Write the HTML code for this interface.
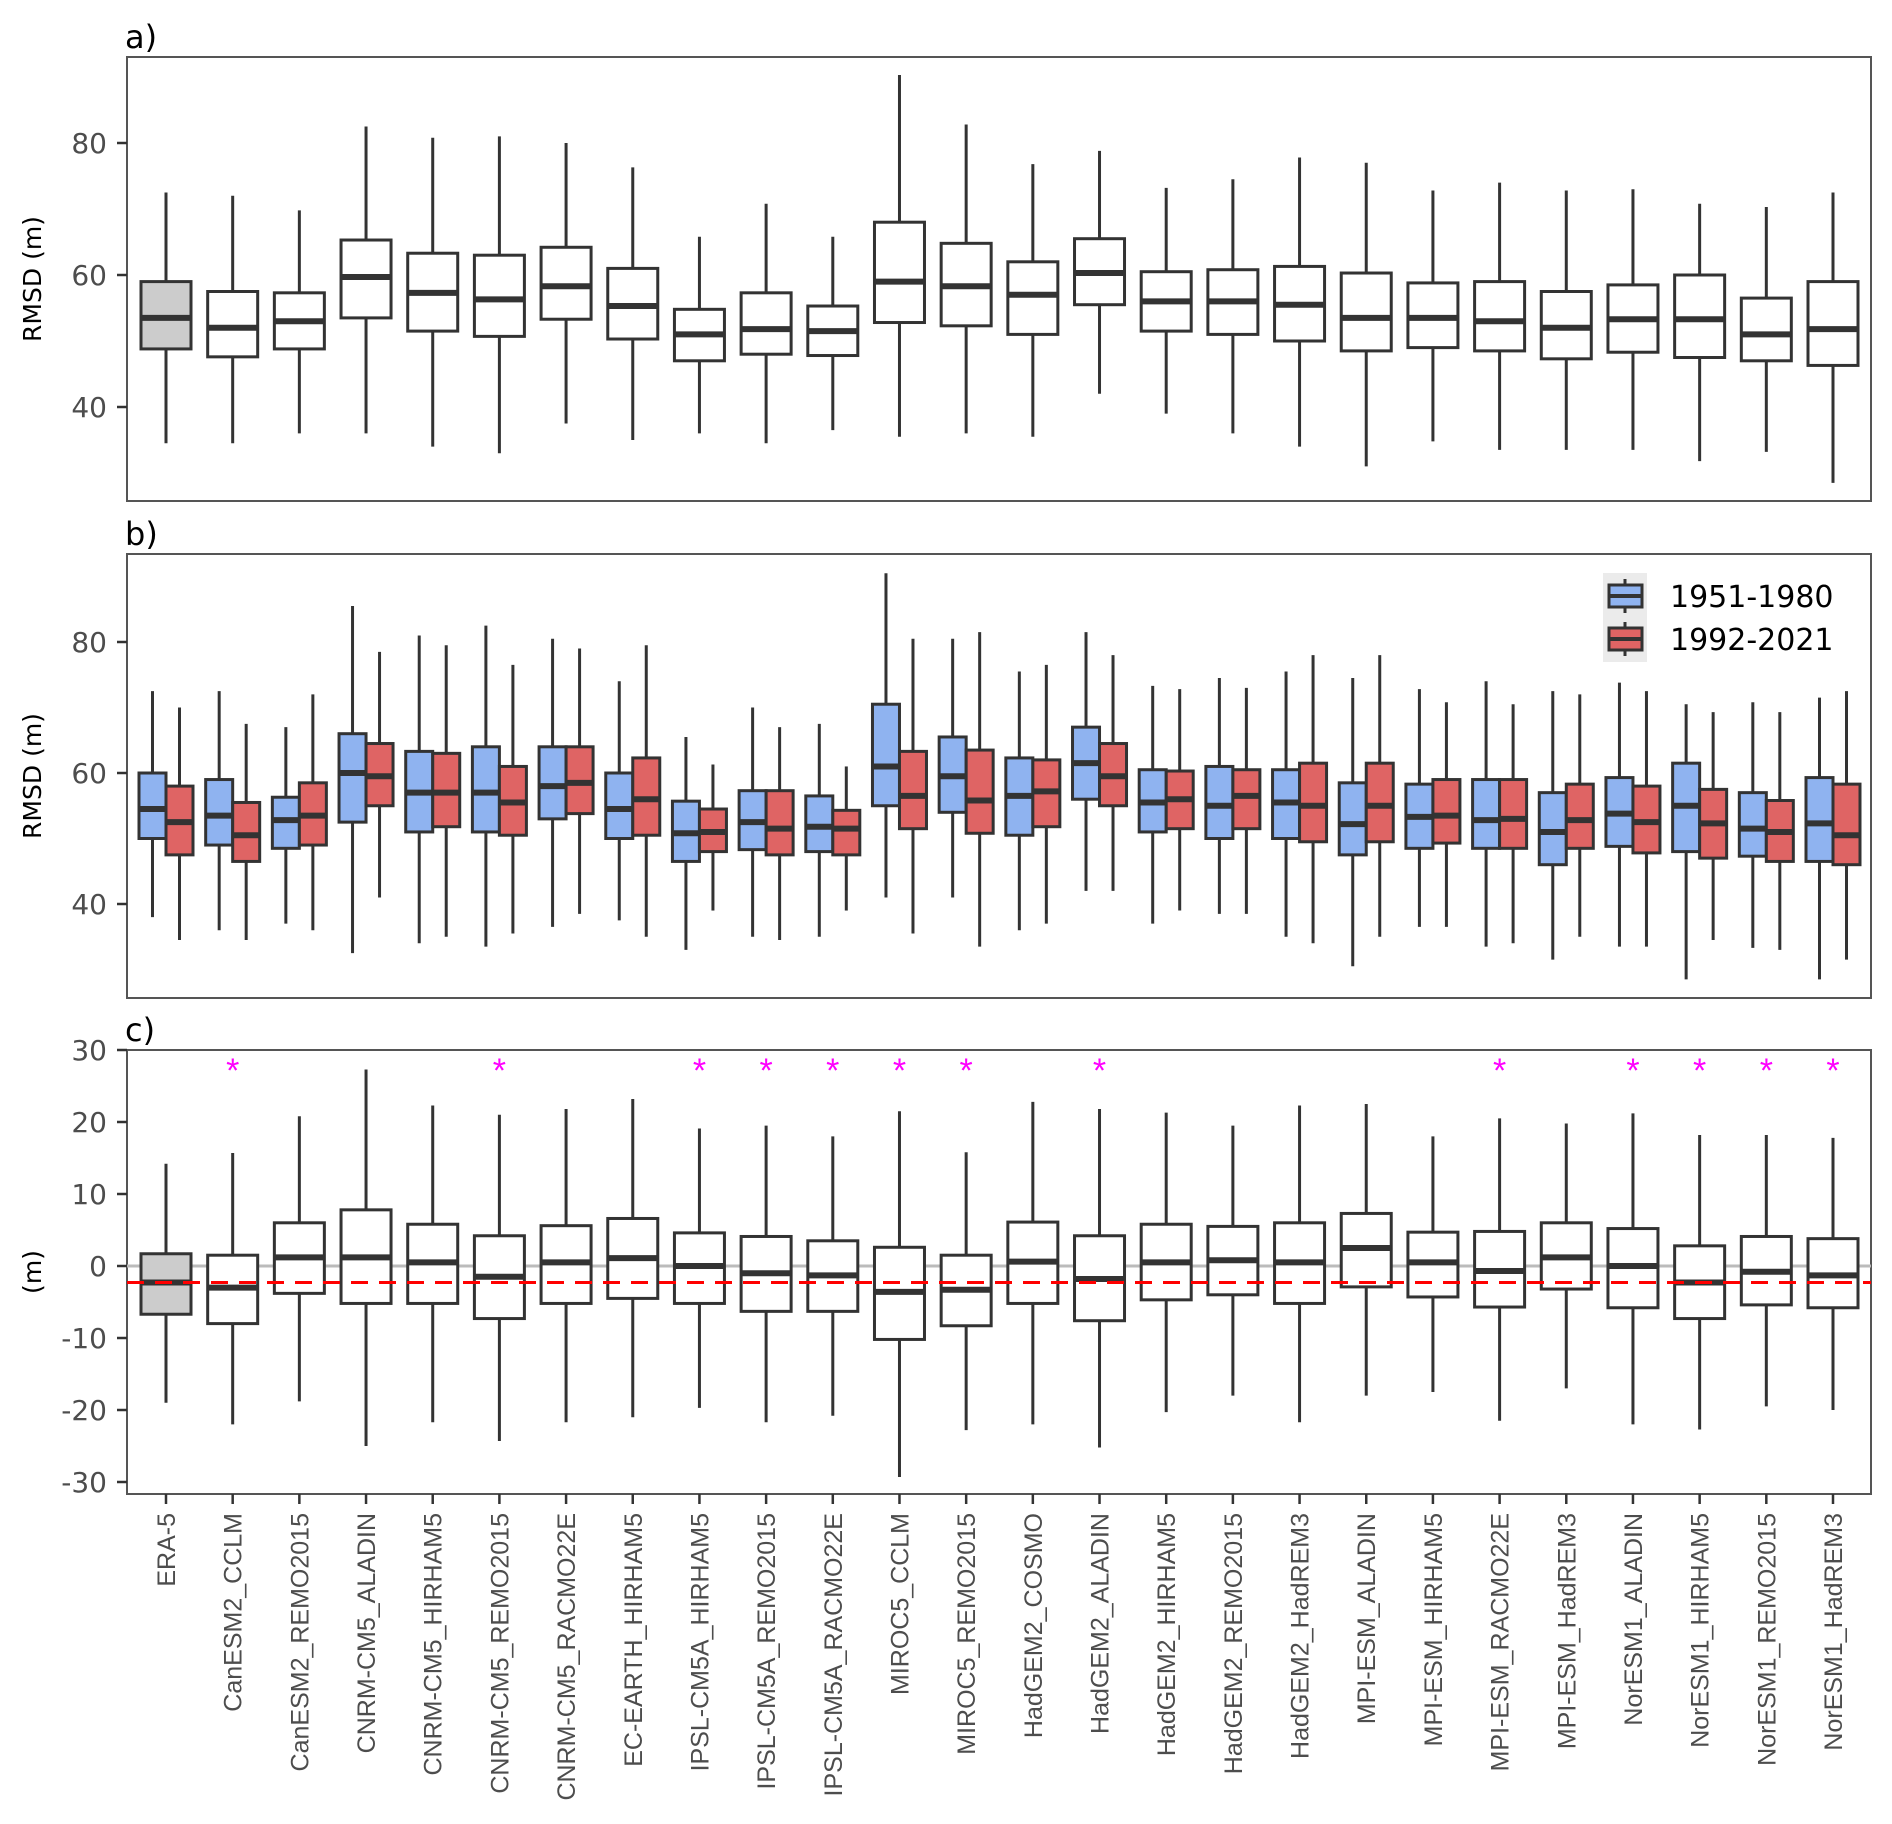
<!DOCTYPE html>
<html><head><meta charset="utf-8"><style>
html,body{margin:0;padding:0;background:#fff;}
svg{display:block;font-family:"Liberation Sans","DejaVu Sans",sans-serif;}
</style></head><body>
<svg id="chart" width="1892" height="1824" viewBox="0 0 1892 1824" xmlns="http://www.w3.org/2000/svg"></svg>
<script>
const categories=["ERA-5","CanESM2_CCLM","CanESM2_REMO2015","CNRM-CM5_ALADIN","CNRM-CM5_HIRHAM5","CNRM-CM5_REMO2015","CNRM-CM5_RACMO22E","EC-EARTH_HIRHAM5","IPSL-CM5A_HIRHAM5","IPSL-CM5A_REMO2015","IPSL-CM5A_RACMO22E","MIROC5_CCLM","MIROC5_REMO2015","HadGEM2_COSMO","HadGEM2_ALADIN","HadGEM2_HIRHAM5","HadGEM2_REMO2015","HadGEM2_HadREM3","MPI-ESM_ALADIN","MPI-ESM_HIRHAM5","MPI-ESM_RACMO22E","MPI-ESM_HadREM3","NorESM1_ALADIN","NorESM1_HIRHAM5","NorESM1_REMO2015","NorESM1_HadREM3"];
// [min,q1,median,q3,max]
const panelA=[[34.5,48.8,53.5,59,72.5],[34.5,47.6,52,57.5,72],[36,48.8,53,57.3,69.8],[36,53.5,59.7,65.3,82.5],[34,51.5,57.3,63.3,80.8],[33,50.7,56.3,63,81],[37.5,53.3,58.3,64.2,80],[35,50.3,55.3,61,76.3],[36,47,51,54.8,65.8],[34.5,48,51.8,57.3,70.8],[36.5,47.8,51.5,55.3,65.8],[35.5,52.8,59,68,90.3],[36,52.3,58.3,64.8,82.8],[35.5,51,57,62,76.8],[42,55.5,60.3,65.5,78.8],[39,51.5,56,60.5,73.2],[36,51,56,60.8,74.5],[34,50,55.5,61.3,77.8],[31,48.5,53.5,60.3,77],[34.8,49,53.5,58.8,72.8],[33.5,48.5,53,59,74],[33.5,47.3,52,57.5,72.8],[33.5,48.3,53.3,58.5,73],[31.8,47.5,53.3,60,70.8],[33.2,47,51,56.5,70.3],[28.5,46.3,51.8,59,72.5]];
const panelBEarly=[[38,50,54.5,60,72.5],[36,49,53.5,59,72.5],[37,48.5,52.8,56.3,67],[32.5,52.5,60,66,85.5],[34,51,57,63.3,81],[33.5,51,57,64,82.5],[36.5,53,58,64,80.5],[37.5,50,54.5,60,74],[33,46.5,50.8,55.7,65.5],[35,48.3,52.5,57.3,70],[35,48,51.8,56.5,67.5],[41,55,61,70.5,90.5],[41,54,59.5,65.5,80.5],[36,50.5,56.5,62.3,75.5],[42,56,61.5,67,81.5],[37,51,55.5,60.5,73.3],[38.5,50,55,61,74.5],[35,50,55.5,60.5,75.5],[30.5,47.5,52.2,58.5,74.5],[36.5,48.5,53.3,58.3,72.8],[33.5,48.5,52.8,59,74],[31.5,46,51,57,72.5],[33.5,48.8,53.8,59.3,73.8],[28.5,48,55,61.5,70.5],[33.3,47.3,51.5,57,70.8],[28.5,46.5,52.3,59.3,71.5]];
const panelBLate=[[34.5,47.5,52.5,58,70],[34.5,46.5,50.5,55.5,67.5],[36,49,53.5,58.5,72],[41,55,59.5,64.5,78.5],[35,51.8,57,63,79.5],[35.5,50.5,55.5,61,76.5],[38.5,53.8,58.5,64,79],[35,50.5,56,62.3,79.5],[39,48,51,54.5,61.3],[34.5,47.5,51.5,57.3,67],[39,47.5,51.5,54.3,61],[35.5,51.5,56.5,63.3,80.5],[33.5,50.8,55.8,63.5,81.5],[37,51.8,57.2,62,76.5],[42,55,59.5,64.5,78],[39,51.5,56,60.3,72.8],[38.5,51.5,56.5,60.5,73],[34,49.5,55,61.5,78],[35,49.5,55,61.5,78],[36.5,49.3,53.5,59,70.8],[34,48.5,53,59,70.5],[35,48.5,52.8,58.3,72],[33.5,47.8,52.5,58,72.5],[34.5,47,52.3,57.5,69.3],[33,46.5,51,55.8,69.3],[31.5,46,50.5,58.3,72.5]];
const panelC=[[-19,-6.7,-2.3,1.7,14.2],[-22,-8,-3,1.5,15.7],[-18.8,-3.8,1.2,6,20.8],[-25,-5.2,1.2,7.8,27.3],[-21.7,-5.2,0.5,5.8,22.3],[-24.3,-7.3,-1.5,4.2,21],[-21.7,-5.2,0.5,5.6,21.8],[-21,-4.5,1.1,6.6,23.2],[-19.7,-5.2,0,4.6,19.1],[-21.7,-6.3,-1,4.1,19.5],[-20.8,-6.3,-1.3,3.5,18],[-29.3,-10.2,-3.6,2.6,21.5],[-22.8,-8.3,-3.3,1.5,15.8],[-22,-5.2,0.6,6.1,22.8],[-25.2,-7.6,-1.8,4.2,21.8],[-20.3,-4.7,0.5,5.8,21.3],[-18,-4,0.8,5.5,19.5],[-21.7,-5.2,0.5,6,22.3],[-18,-2.9,2.5,7.3,22.5],[-17.5,-4.3,0.5,4.7,18],[-21.5,-5.7,-0.7,4.8,20.5],[-17,-3.2,1.2,6,19.8],[-22,-5.8,0,5.2,21.2],[-22.7,-7.3,-2.3,2.8,18.2],[-19.5,-5.4,-0.8,4.1,18.2],[-20,-5.8,-1.3,3.8,17.8]];
const significant=[false,true,false,false,false,true,false,false,true,true,true,true,true,false,true,false,false,false,false,false,true,false,true,true,true,true];
const meanDiff=[-2.3];
const ticksAB=[40,60,80];
const ticksC=[-30,-20,-10,0,10,20,30];
const legendLabels=["1951-1980","1992-2021"];

const svg=document.getElementById('chart');
const NS='http://www.w3.org/2000/svg';
function mk(tag,attrs,parent){const e=document.createElementNS(NS,tag);for(const k in attrs)e.setAttribute(k,attrs[k]);(parent||svg).appendChild(e);return e;}
const X0=127,X1=1871;
const DJ='"DejaVu Sans","Liberation Sans",sans-serif';
function xc(i){return 166+i*66.68;}
const yA=v=>275-(v-60)*6.6;
const yB=v=>773-(v-60)*6.55;
const yC=v=>1266-v*7.2;
const DARK='#333333';

function panel(name,top,bottom,ticks,yf,label,title){
  const g=mk('g',{});
  
  
  const fr=mk('rect',{x:X0,y:top,width:X1-X0,height:bottom-top,fill:'#fff',stroke:'#555',"stroke-width":2},g);
  
  
  ticks.forEach(t=>{
    const tl=mk('line',{x1:117,x2:127,y1:yf(t),y2:yf(t),stroke:DARK,"stroke-width":2.5},g);
    
    
    const tx=mk('text',{x:107,y:yf(t)+10,"text-anchor":"end","font-size":28,"font-family":DJ,fill:'#4d4d4d'},g);
    tx.textContent=t;
    
    
  });
  const pl=mk('text',{x:125,y:top-9,"font-size":32,"font-family":DJ,fill:'#000'},g);
  pl.textContent=label;
  
  
  const cy=(top+bottom)/2;
  const yt=mk('text',{x:0,y:0,transform:`translate(41,${cy}) rotate(-90)`,"text-anchor":"middle","font-size":25,"font-family":DJ,fill:'#000'},g);
  yt.textContent=title;
  
  
  return g;
}
function box(g,cx,w,d,yf,fill,name){
  const b=mk('g',{},g);
  
  
  mk('line',{x1:cx,x2:cx,y1:yf(d[4]),y2:yf(d[3]),stroke:DARK,"stroke-width":3},b);
  mk('line',{x1:cx,x2:cx,y1:yf(d[1]),y2:yf(d[0]),stroke:DARK,"stroke-width":3},b);
  mk('rect',{x:cx-w/2,y:yf(d[3]),width:w,height:yf(d[1])-yf(d[3]),fill:fill,stroke:DARK,"stroke-width":3},b);
  mk('line',{x1:cx-w/2,x2:cx+w/2,y1:yf(d[2]),y2:yf(d[2]),stroke:DARK,"stroke-width":6},b);
}
const gA=panel('panel-a',57,501,ticksAB,yA,'a)','RMSD (m)');
panelA.forEach((d,i)=>box(gA,xc(i),50,d,yA,i===0?'#cccccc':'#ffffff','box-a-'+i));
const gB=panel('panel-b',554,998,ticksAB,yB,'b)','RMSD (m)');
panelBEarly.forEach((d,i)=>box(gB,xc(i)-13.5,27,d,yB,'#8fb3f0','box-b-early-'+i));
panelBLate.forEach((d,i)=>box(gB,xc(i)+13.5,27,d,yB,'#df6464','box-b-late-'+i));
const lg=mk('g',{},gB);


mk('rect',{x:1603,y:573,width:44,height:89,fill:'#ebebeb'},lg);
[['#8fb3f0',596],['#df6464',639]].forEach((c,k)=>{
  const e=mk('g',{},lg);
  
  
  mk('line',{x1:1625,x2:1625,y1:c[1]-17,y2:c[1]+17,stroke:DARK,"stroke-width":3},e);
  mk('rect',{x:1609,y:c[1]-11,width:33,height:22,fill:c[0],stroke:DARK,"stroke-width":3},e);
  mk('line',{x1:1609,x2:1642,y1:c[1],y2:c[1],stroke:DARK,"stroke-width":4},e);
  const t=mk('text',{x:1670,y:c[1]+11,"font-size":30,"font-family":DJ,fill:'#000'},e);
  t.textContent=legendLabels[k];
});
const gC=panel('panel-c',1050,1494,ticksC,yC,'c)','(m)');
const zl=mk('line',{x1:X0,x2:X1,y1:yC(0),y2:yC(0),stroke:'#bbbbbb',"stroke-width":3},gC);


panelC.forEach((d,i)=>box(gC,xc(i),50,d,yC,i===0?'#cccccc':'#ffffff','box-c-'+i));
const ml=mk('line',{x1:X0,x2:X1,y1:yC(meanDiff[0]),y2:yC(meanDiff[0]),stroke:'#ff0000',"stroke-width":3,"stroke-dasharray":"17 11"},gC);


significant.forEach((s,i)=>{
  if(!s)return;
  const t=mk('text',{x:xc(i),y:1082,"text-anchor":"middle","font-size":34,fill:'#ff00ff'},gC);
  t.textContent='*';
  
  
});
categories.forEach((c,i)=>{
  const x=xc(i);
  const tl=mk('line',{x1:x,x2:x,y1:1494,y2:1504,stroke:DARK,"stroke-width":2.5});
  
  
  const t=mk('text',{x:0,y:0,transform:`translate(${x+9},1513) rotate(-90)`,"text-anchor":"end","font-size":25,fill:'#4d4d4d'});
  t.textContent=c;
  
  
});
</script>
</body></html>
